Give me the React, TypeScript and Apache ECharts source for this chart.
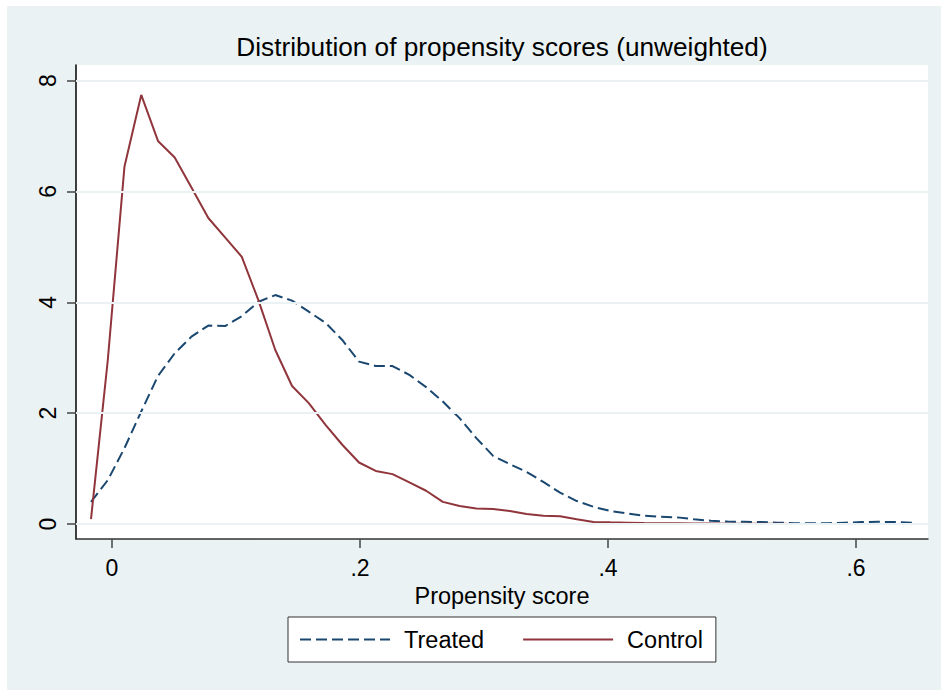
import React, { useEffect, useRef } from "react";
import * as echarts from "echarts";

// Kernel density evaluation points (propensity score)
const xGrid = [
  -0.0169, -0.0034, 0.0101, 0.0236, 0.0371, 0.0506, 0.0641, 0.0777, 0.0912, 0.1047,
  0.1182, 0.1317, 0.1452, 0.1587, 0.1722, 0.1857, 0.1992, 0.2127, 0.2262, 0.2398,
  0.2533, 0.2668, 0.2803, 0.2938, 0.3073, 0.3208, 0.3343, 0.3478, 0.3613, 0.3748,
  0.3883, 0.4018, 0.4154, 0.4289, 0.4424, 0.4559, 0.4694, 0.4829, 0.4964, 0.5099,
  0.5234, 0.5369, 0.5504, 0.5639, 0.5775, 0.591, 0.6045, 0.618, 0.6315, 0.645,
];

const treated = [
  0.4, 0.79, 1.37, 2.03, 2.67, 3.08, 3.38, 3.58, 3.57, 3.75,
  4.01, 4.13, 4.03, 3.83, 3.63, 3.32, 2.93, 2.85, 2.85, 2.69,
  2.47, 2.21, 1.91, 1.55, 1.23, 1.08, 0.94, 0.76, 0.565, 0.415,
  0.31, 0.235, 0.19, 0.15, 0.13, 0.12, 0.085, 0.06, 0.045, 0.04,
  0.035, 0.025, 0.015, 0.012, 0.015, 0.025, 0.035, 0.04, 0.035, 0.025,
];

const control = [
  0.09, 2.95, 6.45, 7.74, 6.91, 6.61, 6.07, 5.52, 5.17, 4.82,
  4.03, 3.14, 2.49, 2.18, 1.79, 1.43, 1.11, 0.957, 0.9, 0.75,
  0.6, 0.4, 0.325, 0.28, 0.27, 0.235, 0.18, 0.15, 0.14, 0.085,
  0.036, 0.03, 0.025, 0.018, 0.015, 0.012, 0.01, 0.008, 0.006, 0.005,
  0.004, 0.003, 0.002, 0.002, 0.002, 0.002, 0.002, 0.002, 0.001, 0.001,
];

const xTicks = [0, 0.2, 0.4, 0.6];
const yTicks = [0, 2, 4, 6, 8];
const seriesNames = ["Treated", "Control"];
const titleText = "Distribution of propensity scores (unweighted)";
const xName = "Propensity score";

export default function App() {
  const ref = useRef<HTMLDivElement>(null);

  useEffect(() => {
    if (!ref.current) return;
    const chart = echarts.init(ref.current, null, { renderer: "svg" });
    const font = "'Liberation Sans', Arial, Helvetica, sans-serif";
    chart.setOption({
      animation: false,
      backgroundColor: "#EAF2F3",
      textStyle: { fontFamily: font },
      title: {
        text: titleText,
        left: 495,
        top: 28,
        textAlign: "center",
        padding: 0,
        textStyle: { fontSize: 26.2, fontWeight: "normal", color: "#000", fontFamily: font },
      },
      grid: {
        left: 69,
        top: 59,
        right: 13,
        bottom: 151,
        show: true,
        backgroundColor: "#ffffff",
        borderWidth: 0,
      },
      legend: {
        data: seriesNames,
        left: 281,
        top: 611,
        orient: "horizontal",
        backgroundColor: "#ffffff",
        borderColor: "#333333",
        borderWidth: 1,
        borderRadius: 0,
        padding: [9, 13, 9, 11],
        itemWidth: 90,
        itemHeight: 20,
        itemGap: 38,
        itemStyle: { opacity: 0, borderWidth: 0 },
        textStyle: {
          fontSize: 23.5,
          color: "#000",
          fontFamily: font,
          padding: [0, 0, 0, 9],
          lineHeight: 27,
        },
      },
      xAxis: {
        type: "value",
        min: -0.029,
        max: 0.658,
        name: xName,
        nameLocation: "middle",
        nameGap: 40,
        nameTextStyle: { fontSize: 23.5, color: "#000", fontFamily: font },
        axisLine: { show: true, onZero: false, lineStyle: { color: "#333", width: 1.5 } },
        axisTick: { show: true, length: 9, customValues: xTicks, lineStyle: { color: "#444", width: 1.5 } },
        axisLabel: {
          customValues: xTicks,
          fontSize: 23,
          color: "#000",
          margin: 17,
          fontFamily: font,
          formatter: (v: number) => (v === 0 ? "0" : String(v).replace(/^0\./, ".")),
        },
        splitLine: { show: false },
      },
      yAxis: {
        type: "value",
        min: -0.27,
        max: 8.28,
        axisLine: { show: true, onZero: false, lineStyle: { color: "#000", width: 1.5 } },
        axisTick: { show: true, length: 9, customValues: yTicks, lineStyle: { color: "#444", width: 1.5 } },
        axisLabel: {
          customValues: yTicks,
          rotate: 90,
          fontSize: 23,
          color: "#000",
          margin: 17,
          fontFamily: font,
        },
        splitLine: { show: false },
      },
      series: [
        {
          name: "gridlines",
          type: "line",
          data: [],
          silent: true,
          z: 1,
          markLine: {
            silent: true,
            symbol: ["none", "none"],
            label: { show: false },
            lineStyle: { color: "#EAF2F3", width: 2, type: "solid" },
            data: yTicks.map((v) => ({ yAxis: v })),
            animation: false,
          },
        },
        {
          name: "Treated",
          type: "line",
          data: xGrid.map((x, i) => [x, treated[i]]),
          symbol: "none",
          z: 3,
          lineStyle: { color: "#1A476F", width: 2, type: [11, 5] },
          itemStyle: { color: "#1A476F" },
        },
        {
          name: "Control",
          type: "line",
          data: xGrid.map((x, i) => [x, control[i]]),
          symbol: "none",
          z: 4,
          lineStyle: { color: "#90353B", width: 2, type: "solid" },
          itemStyle: { color: "#90353B" },
        },
      ],
    });
    return () => chart.dispose();
  }, []);

  return (
    <div style={{ position: "fixed", left: 0, top: 0, width: 941, height: 690, background: "#ffffff" }}>
      <div ref={ref} style={{ position: "absolute", left: 7, top: 6, width: 934, height: 684 }} />
    </div>
  );
}
